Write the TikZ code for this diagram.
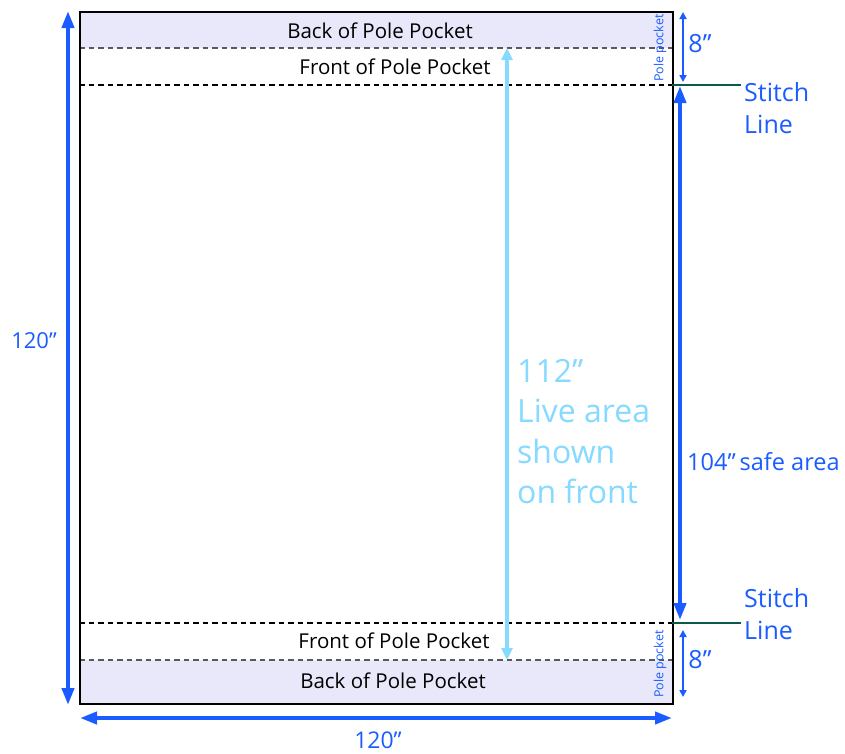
\documentclass[tikz,border=0pt]{standalone}
\usepackage{fontspec}
\setmainfont{Open Sans}
\usetikzlibrary{arrows.meta}
\definecolor{dimblue}{HTML}{1A5CFF}
\definecolor{liveblue}{HTML}{86D9FF}
\definecolor{pocket}{HTML}{E8E8FA}
\definecolor{stitch}{HTML}{0B5A4C}
\tikzset{
  dimarrow/.style={draw=dimblue, line width=4pt, {Triangle[length=17pt,width=12pt]}-{Triangle[length=17pt,width=12pt]}},
  smallarrow/.style={draw=dimblue, line width=2pt, {Triangle[length=7pt,width=7pt]}-{Triangle[length=7pt,width=7pt]}},
  livearrow/.style={draw=liveblue, line width=4pt, {Triangle[length=12pt,width=11pt]}-{Triangle[length=12pt,width=11pt]}},
  blk/.style={text=black, font=\fontsize{20.5}{24}\selectfont, inner sep=0pt},
  dimtext/.style={text=dimblue, inner sep=0pt},
  fold/.style={draw=black, line width=1.8pt, dash pattern=on 5.5pt off 4pt},
  foldgray/.style={draw=black!65, line width=1.8pt, dash pattern=on 5.5pt off 4pt},
  stitchline/.style={draw=stitch, line width=2.5pt}
}
\begin{document}
\begin{tikzpicture}[x=1pt,y=-1pt]
\useasboundingbox (0,0) rectangle (845,753);
% pockets
\fill[pocket] (79,11) rectangle (672,48);
\fill[pocket] (79,660) rectangle (672,703);
\draw[foldgray] (79,48) -- (672,48);
\draw[fold] (79,85) -- (672,85);
\draw[fold] (79,623) -- (672,623);
\draw[foldgray] (79,660) -- (672,660);
\node[draw=black, line width=2pt, minimum width=593pt, minimum height=692pt, inner sep=0pt, anchor=north west] (banner) at (79,11) {};

% texts in pockets
\node[blk] (tb) at (380,31) {Back of Pole Pocket};
\node[blk] (tf) at (395,67) {Front of Pole Pocket};
\node[blk] (bf) at (394,641) {Front of Pole Pocket};
\node[blk] (bb) at (393,681) {Back of Pole Pocket};

% rotated pole pocket labels
\node[dimtext, rotate=90, font=\fontsize{12.5}{13}\selectfont] (pp1) at (660,48) {Pole pocket};
\node[dimtext, rotate=90, font=\fontsize{12.5}{13}\selectfont] (pp2) at (660,664) {Pole pocket};

% coordinates
\coordinate (lt) at (68,11);
\coordinate (lb) at (68,705);
\coordinate (bl) at (80,718);
\coordinate (br) at (672,718);
\coordinate (vt) at (507,48);
\coordinate (vb) at (507,660);
\coordinate (st) at (680,86);
\coordinate (sb) at (680,620);
\coordinate (ptt) at (683,12);
\coordinate (ptb) at (683,82);
\coordinate (pbt) at (683,630);
\coordinate (pbb) at (683,697);
\coordinate (s1a) at (672,85);
\coordinate (s1b) at (741,85);
\coordinate (s2a) at (672,623);
\coordinate (s2b) at (741,623);

% arrows
\draw[dimarrow] (lt) -- (lb);
\draw[dimarrow] (bl) -- (br);
\draw[livearrow] (vt) -- (vb);
\draw[dimarrow] (st) -- (sb);
\draw[smallarrow] (ptt) -- (ptb);
\draw[smallarrow] (pbt) -- (pbb);
\draw[stitchline] (s1a) -- (s1b);
\draw[stitchline] (s2a) -- (s2b);

% dimension labels
\node[dimtext, font=\fontsize{22}{26}\selectfont] (l120) at (34,341) {120”};
\node[dimtext, font=\fontsize{23}{26}\selectfont] (b120) at (378,740) {120”};
\node[dimtext, font=\fontsize{25}{26}\selectfont] (p8a) at (700,44) {8”};
\node[dimtext, font=\fontsize{25}{26}\selectfont] (p8b) at (700,660) {8”};
\node[dimtext, font=\fontsize{23.5}{26}\selectfont, anchor=west] (safe) at (687,462) {104”\,safe area};
\node[dimtext, font=\fontsize{25}{32}\selectfont, align=left, anchor=north west] (st1) at (744,82) {Stitch\\Line};
\node[dimtext, font=\fontsize{25}{32}\selectfont, align=left, anchor=north west] (st2) at (744,588) {Stitch\\Line};
\node[text=liveblue, inner sep=0pt, font=\fontsize{32}{40.5}\selectfont, align=left, anchor=north west] (live) at (517,359) {112”\\Live area\\shown\\on front};
\end{tikzpicture}
\end{document}
